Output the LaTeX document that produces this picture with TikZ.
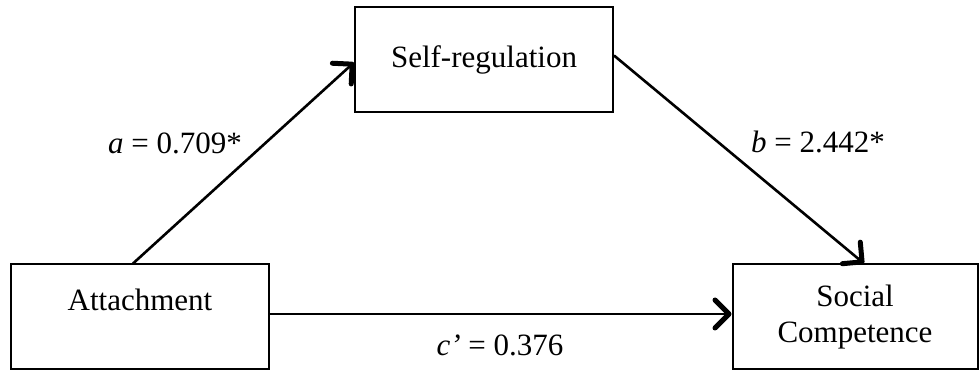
\documentclass[tikz,border=0pt]{standalone}
\usepackage{fontspec}
\setmainfont{Liberation Serif}
\usetikzlibrary{positioning,arrows.meta}

\begin{document}
\begin{tikzpicture}[
  x=1pt, y=1pt,
  >={Straight Barb[length=14pt,width=28pt,line width=5pt 0 1,round]},
  font=\fontsize{31}{36}\selectfont,
  box/.style={
    draw,
    line width=2pt,
    align=center,
    minimum width=258pt,
    minimum height=105pt,
    inner sep=0pt
  },
  link/.style={->, line width=2.6pt},
  coef/.style={anchor=base, inner sep=0pt}
]
\useasboundingbox (0,0) rectangle (979,371);

\node[box, text depth=34pt] (attach) at (140,54)    {Attachment};
\node[box]                  (selfreg) at (484,311.5) {Self-regulation};
\node[box, minimum width=245pt] (social) at (855,54) {Social\\Competence};

\draw[link] ([xshift=-7pt]attach.north) -- ([yshift=-3pt]selfreg.west);
\draw[link] ([yshift=4pt]selfreg.east) -- ([xshift=9pt]social.north);
\draw[link] ([yshift=3pt]attach.east) -- ([yshift=3pt]social.west);

\node[coef] (alabel) at (175,217) {\textit{a} = 0.709*};
\node[coef] (blabel) at (818,218) {\textit{b} = 2.442*};
\node[coef] (clabel) at (500,15)  {\textit{c’} = 0.376};
\end{tikzpicture}
\end{document}
